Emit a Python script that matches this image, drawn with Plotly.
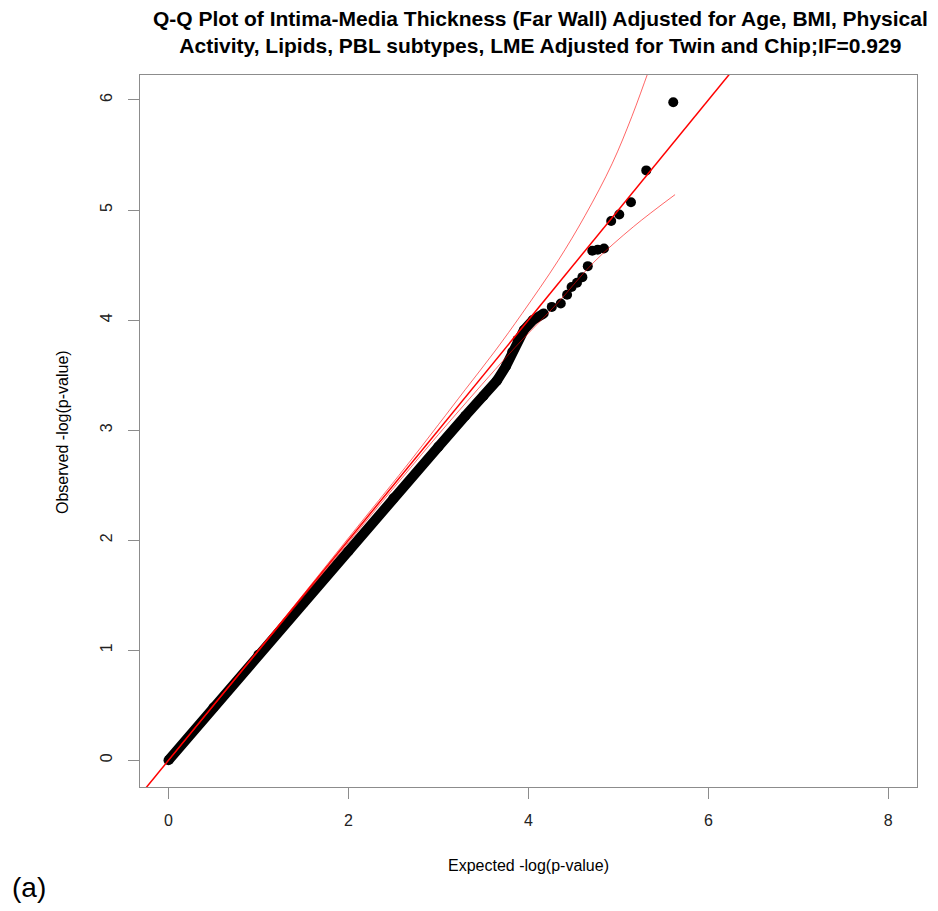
import plotly.graph_objects as go

# Dense part of the Q-Q curve (expected, observed)
band_exp = [0.0, 0.5, 1.0, 1.5, 2.0, 2.5, 3.0, 3.3, 3.5, 3.65, 3.75, 3.82, 3.88, 3.95, 4.05, 4.17]
band_obs = [0.0, 0.48, 0.96, 1.43, 1.90, 2.38, 2.85, 3.13, 3.31, 3.45, 3.58, 3.71, 3.82, 3.91, 4.00, 4.06]

# Individual tail points
tail_exp = [4.26, 4.36, 4.43, 4.48, 4.54, 4.60, 4.66, 4.71, 4.77, 4.84, 4.92, 5.01, 5.14, 5.31, 5.61]
tail_obs = [4.12, 4.15, 4.23, 4.30, 4.34, 4.39, 4.49, 4.63, 4.64, 4.65, 4.90, 4.96, 5.07, 5.36, 5.98]

# Confidence band curves
upper_exp = [0.0, 1.0, 2.0, 2.63, 3.0, 3.3, 3.63, 3.93, 4.33, 4.63, 4.93, 5.15, 5.33, 5.45]
upper_obs = [0.0, 1.0, 2.02, 2.66, 3.05, 3.37, 3.72, 4.06, 4.54, 4.95, 5.42, 5.85, 6.25, 6.52]
lower_exp = [0.0, 1.0, 2.0, 2.63, 3.0, 3.63, 3.93, 4.33, 4.72, 5.17, 5.63]
lower_obs = [0.0, 0.99, 1.98, 2.60, 2.96, 3.55, 3.82, 4.16, 4.52, 4.85, 5.14]

# Reference line y = x
ref_x = [-1.0, 10.0]
ref_y = [-1.0, 10.0]

x_ticks = [0, 2, 4, 6, 8]
y_ticks = [0, 1, 2, 3, 4, 5, 6]

title_text = ("<b>Q-Q Plot of Intima-Media Thickness (Far Wall) Adjusted for Age, BMI, Physical<br>"
              "Activity, Lipids, PBL subtypes, LME Adjusted for Twin and Chip;IF=0.929</b>")

FONT = "Liberation Sans, Arial, Helvetica, sans-serif"
GREY = "#8c8c8c"

# plot area in pixels
L, R, T, B = 140, 917, 75, 787
PW, PH = R - L, B - T


def px(xp):
    return (xp - L) / PW


def py(yp):
    return (B - yp) / PH


fig = go.Figure()
fig.add_trace(go.Scatter(x=band_exp, y=band_obs, mode="lines+markers",
                         line=dict(color="black", width=10),
                         marker=dict(color="black", size=10),
                         hoverinfo="skip", showlegend=False))
fig.add_trace(go.Scatter(x=tail_exp, y=tail_obs, mode="markers",
                         marker=dict(color="black", size=10),
                         showlegend=False))
fig.add_trace(go.Scatter(x=upper_exp, y=upper_obs, mode="lines",
                         line=dict(color="rgba(255,0,0,0.6)", width=1, shape="spline"),
                         showlegend=False))
fig.add_trace(go.Scatter(x=lower_exp, y=lower_obs, mode="lines",
                         line=dict(color="rgba(255,0,0,0.6)", width=1, shape="spline"),
                         showlegend=False))
fig.add_trace(go.Scatter(x=ref_x, y=ref_y, mode="lines",
                         line=dict(color="red", width=1.5),
                         showlegend=False))

axis_common = dict(showgrid=False, zeroline=False, showline=True, mirror=True,
                   linecolor=GREY, linewidth=1, ticks="outside", ticklen=11,
                   tickcolor=GREY, tickwidth=1,
                   tickfont=dict(family=FONT, size=16, color="#222222"))

fig.update_layout(
    width=938, height=911,
    margin=dict(l=L, r=938 - R, t=T, b=911 - B),
    paper_bgcolor="white", plot_bgcolor="white",
    xaxis=dict(range=[-0.3167, 8.319], tickvals=x_ticks, ticklabelstandoff=8, **axis_common),
    yaxis=dict(range=[-0.2427, 6.227], tickvals=y_ticks, tickangle=-90,
               ticklabelstandoff=10, **axis_common),
    annotations=[
        dict(text=title_text, xref="paper", yref="paper",
             x=px(540), y=py(32), xanchor="center", yanchor="middle", align="center",
             showarrow=False, font=dict(family=FONT, size=21, color="black")),
        dict(text="Expected -log(p-value)", xref="paper", yref="paper",
             x=px(528), y=py(865), xanchor="center", yanchor="middle",
             showarrow=False, font=dict(family=FONT, size=16, color="black")),
        dict(text="Observed -log(p-value)", xref="paper", yref="paper",
             x=px(63), y=py(432), xanchor="center", yanchor="middle",
             textangle=-90, showarrow=False, font=dict(family=FONT, size=16, color="black")),
        dict(text="(a)", xref="paper", yref="paper",
             x=px(10), y=py(887), xanchor="left", yanchor="middle",
             showarrow=False, font=dict(family=FONT, size=28, color="black")),
    ],
)

fig.write_html("out.html")
